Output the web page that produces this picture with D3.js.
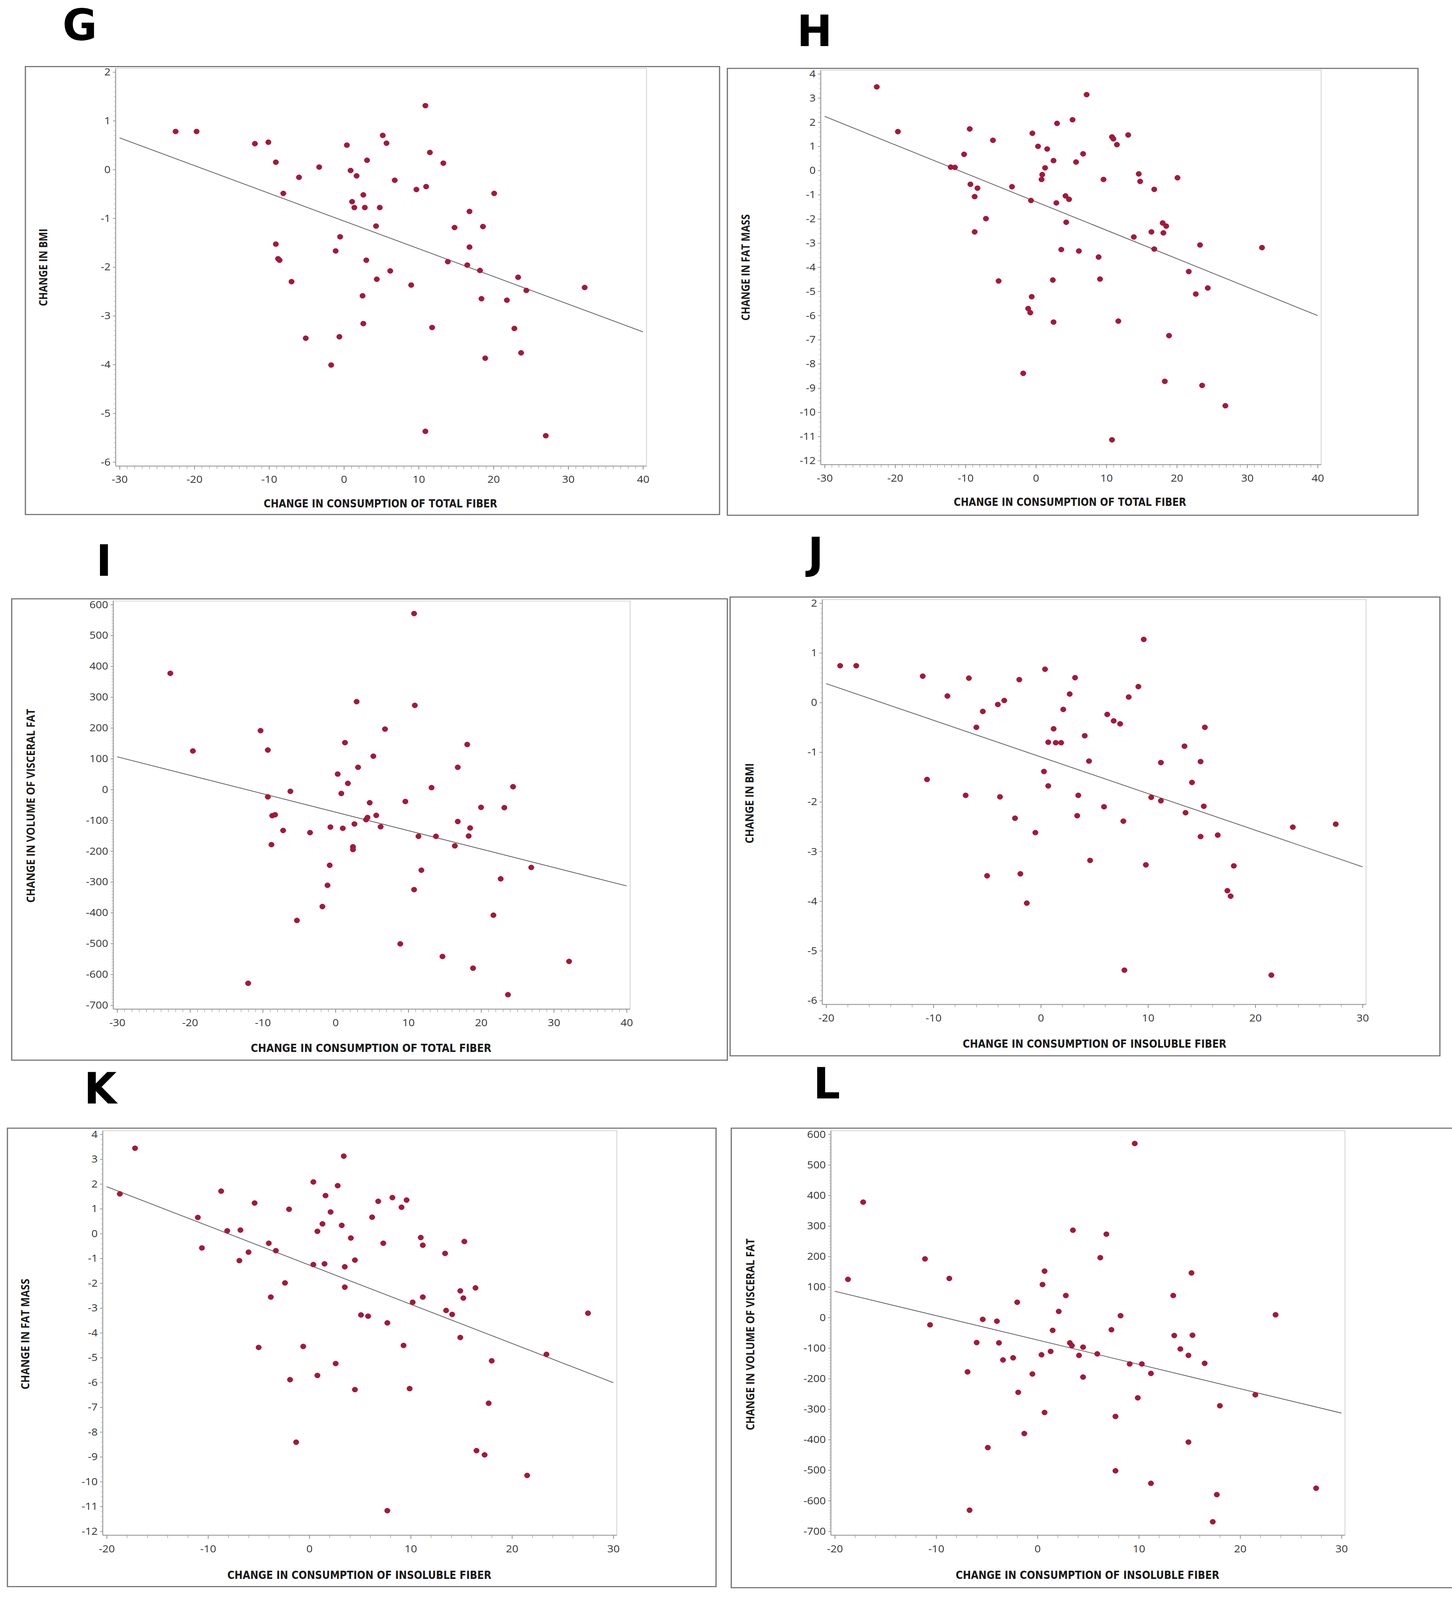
<!DOCTYPE html>
<html>
<head>
<meta charset="utf-8">
<script src="https://cdn.jsdelivr.net/npm/d3@7"></script>
<style>
  html, body { margin: 0; padding: 0; background: #fff; width: 100%; height: 100%; overflow: hidden; }
  svg { display: block; width: 100vw; height: 100vh; }
</style>
</head>
<body>
<script>
// page size (drawing units)
const W = 3717
const H = 4422

// axis ticks
const totalFiberTicks = [-30, -20, -10, 0, 10, 20, 30, 40]
const insolubleTicks = [-20, -10, 0, 10, 20, 30]
const bmiTicks = [-6, -5, -4, -3, -2, -1, 0, 1, 2]
const fatMassTicks = [-12, -11, -10, -9, -8, -7, -6, -5, -4, -3, -2, -1, 0, 1, 2, 3, 4]
const visceralTicks = [-700, -600, -500, -400, -300, -200, -100, 0, 100, 200, 300, 400, 500, 600]

// panel letters and titles
const letters = ['G', 'H', 'I', 'J', 'K', 'L']
const xTitles = [
	'CHANGE IN CONSUMPTION OF TOTAL FIBER',
	'CHANGE IN CONSUMPTION OF TOTAL FIBER',
	'CHANGE IN CONSUMPTION OF TOTAL FIBER',
	'CHANGE IN CONSUMPTION OF INSOLUBLE FIBER',
	'CHANGE IN CONSUMPTION OF INSOLUBLE FIBER',
	'CHANGE IN CONSUMPTION OF INSOLUBLE FIBER'
]
const yTitles = [
	'CHANGE IN BMI',
	'CHANGE IN FAT MASS',
	'CHANGE IN VOLUME OF VISCERAL FAT',
	'CHANGE IN BMI',
	'CHANGE IN FAT MASS',
	'CHANGE IN VOLUME OF VISCERAL FAT'
]

// points: [change in fiber, change in outcome]
const gPoints = [[-22.5,0.78],[-19.7,0.78],[-11.9,0.53],[-10.1,0.56],[-9.1,0.15],[-8.1,-0.49],[-9.1,-1.53],[-8.6,-1.86],[-8.8,-1.83],[-7.0,-2.30],[-6.0,-0.16],[-5.1,-3.46],[-3.3,0.05],[-1.7,-4.01],[-1.1,-1.67],[-0.6,-3.43],[-0.5,-1.38],[0.4,0.50],[0.9,-0.02],[1.1,-0.66],[1.4,-0.78],[1.7,-0.13],[2.5,-2.59],[2.6,-0.52],[2.6,-3.16],[2.8,-0.78],[3.0,-1.86],[3.1,0.19],[4.3,-1.16],[4.4,-2.25],[4.8,-0.78],[5.2,0.70],[5.7,0.54],[6.2,-2.08],[6.8,-0.22],[9.0,-2.37],[9.7,-0.41],[10.9,1.31],[10.9,-5.37],[11.0,-0.35],[11.5,0.35],[11.8,-3.24],[13.3,0.13],[13.9,-1.89],[14.8,-1.19],[16.5,-1.96],[16.8,-0.86],[16.8,-1.59],[18.2,-2.07],[18.4,-2.65],[18.6,-1.17],[18.9,-3.87],[20.1,-0.49],[21.8,-2.68],[22.8,-3.26],[23.3,-2.21],[23.7,-3.76],[24.4,-2.48],[27.0,-5.46],[32.2,-2.42]]

const hPoints = [[-22.6,3.46],[-19.6,1.61],[-12.1,0.14],[-11.5,0.13],[-10.2,0.67],[-9.4,1.72],[-9.3,-0.57],[-8.7,-1.08],[-8.7,-2.54],[-8.3,-0.73],[-7.1,-1.99],[-6.1,1.25],[-5.3,-4.57],[-3.4,-0.67],[-1.8,-8.39],[-1.1,-5.71],[-0.8,-5.88],[-0.7,-1.24],[-0.6,-5.22],[-0.5,1.54],[0.3,1.00],[0.8,-0.37],[0.9,-0.17],[1.3,0.11],[1.6,0.89],[2.4,-4.53],[2.5,0.41],[2.5,-6.27],[2.9,-1.34],[3.0,1.95],[3.6,-3.27],[4.2,-1.05],[4.3,-2.14],[4.7,-1.19],[5.2,2.10],[5.7,0.35],[6.1,-3.33],[6.7,0.69],[7.2,3.14],[8.9,-3.58],[9.1,-4.49],[9.6,-0.37],[10.8,1.39],[10.8,-11.14],[11.0,1.31],[11.5,1.07],[11.7,-6.23],[13.1,1.47],[13.9,-2.75],[14.6,-0.14],[14.8,-0.45],[16.4,-2.54],[16.8,-0.78],[16.8,-3.25],[18.0,-2.17],[18.1,-2.58],[18.3,-8.72],[18.5,-2.30],[18.9,-6.83],[20.1,-0.30],[21.7,-4.18],[22.7,-5.11],[23.3,-3.08],[23.6,-8.89],[24.4,-4.86],[26.9,-9.73],[32.1,-3.19]]

const iPoints = [[-22.7,377],[-19.6,125],[-12.0,-629],[-10.3,191],[-9.3,128],[-9.3,-24],[-8.8,-179],[-8.7,-85],[-8.3,-82],[-7.2,-133],[-6.2,-6],[-5.3,-425],[-3.5,-140],[-1.8,-380],[-1.1,-311],[-0.8,-246],[-0.7,-122],[0.3,50],[0.8,-13],[1.0,-126],[1.3,152],[1.7,20],[2.4,-186],[2.4,-195],[2.6,-112],[2.9,285],[3.1,72],[4.2,-98],[4.4,-91],[4.7,-43],[5.2,108],[5.6,-84],[6.2,-121],[6.8,196],[8.9,-501],[9.6,-39],[10.8,571],[10.9,273],[10.8,-325],[11.4,-152],[11.8,-262],[13.2,6],[13.8,-152],[14.7,-542],[16.4,-183],[16.8,72],[16.8,-104],[18.1,146],[18.3,-151],[18.5,-125],[18.9,-580],[20.0,-58],[21.7,-408],[22.7,-290],[23.2,-59],[23.7,-666],[24.4,9],[26.9,-253],[32.1,-558]]

const jPoints = [[-18.7,0.74],[-17.2,0.74],[-11.0,0.53],[-10.6,-1.55],[-8.7,0.13],[-7.0,-1.87],[-6.7,0.49],[-6.0,-0.50],[-5.4,-0.18],[-5.0,-3.49],[-4.0,-0.04],[-3.8,-1.90],[-3.4,0.04],[-2.4,-2.33],[-2.0,0.46],[-1.9,-3.45],[-1.3,-4.04],[-0.5,-2.62],[0.3,-1.39],[0.4,0.67],[0.7,-1.68],[0.7,-0.80],[1.2,-0.53],[1.4,-0.81],[1.9,-0.81],[2.1,-0.14],[2.7,0.17],[3.2,0.50],[3.4,-2.28],[3.5,-1.87],[4.1,-0.67],[4.5,-1.18],[4.6,-3.18],[5.9,-2.10],[6.2,-0.24],[6.8,-0.37],[7.4,-0.43],[7.7,-2.39],[7.8,-5.39],[8.2,0.11],[9.1,0.32],[9.6,1.27],[9.8,-3.27],[10.3,-1.91],[11.2,-1.98],[11.2,-1.21],[13.4,-0.88],[13.5,-2.22],[14.1,-1.61],[14.9,-1.19],[14.9,-2.70],[15.2,-2.09],[15.3,-0.50],[16.5,-2.67],[17.4,-3.79],[17.7,-3.90],[18.0,-3.29],[21.5,-5.49],[23.5,-2.51],[27.5,-2.45]]

const kPoints = [[-18.7,1.60],[-17.2,3.44],[-11.0,0.65],[-10.6,-0.58],[-8.7,1.71],[-8.1,0.11],[-6.9,-1.09],[-6.8,0.14],[-6.0,-0.75],[-5.4,1.23],[-5.0,-4.59],[-4.0,-0.39],[-3.8,-2.56],[-3.3,-0.69],[-2.4,-1.99],[-2.0,0.98],[-1.9,-5.89],[-1.3,-8.41],[-0.6,-4.55],[0.4,-1.25],[0.4,2.08],[0.8,-5.72],[0.8,0.09],[1.3,0.39],[1.5,-1.22],[1.6,1.53],[2.1,0.87],[2.6,-5.24],[2.8,1.93],[3.2,0.33],[3.4,3.12],[3.5,-1.34],[3.5,-2.16],[4.1,-0.18],[4.5,-1.07],[4.5,-6.29],[5.1,-3.28],[5.8,-3.33],[6.2,0.66],[6.8,1.30],[7.3,-0.39],[7.7,-3.60],[7.7,-11.17],[8.2,1.45],[9.1,1.06],[9.3,-4.51],[9.6,1.35],[9.9,-6.25],[10.2,-2.77],[11.0,-0.16],[11.2,-2.56],[11.2,-0.47],[13.4,-0.80],[13.5,-3.10],[14.1,-3.26],[14.9,-2.31],[14.9,-4.19],[15.2,-2.60],[15.3,-0.32],[16.4,-2.19],[16.5,-8.75],[17.3,-8.92],[17.7,-6.84],[18.0,-5.13],[21.5,-9.75],[23.4,-4.87],[27.5,-3.21]]

const lPoints = [[-18.7,125],[-17.2,378],[-11.1,192],[-10.6,-24],[-8.7,128],[-6.9,-178],[-6.7,-631],[-6.0,-82],[-5.4,-6],[-4.9,-426],[-4.0,-12],[-3.8,-83],[-3.4,-139],[-2.4,-132],[-2.0,50],[-1.9,-245],[-1.3,-380],[-0.5,-185],[0.4,-122],[0.5,108],[0.7,152],[0.7,-311],[1.3,-111],[1.5,-42],[2.1,20],[2.8,72],[3.2,-83],[3.4,-92],[3.5,286],[4.1,-124],[4.5,-97],[4.5,-195],[5.9,-119],[6.2,196],[6.8,273],[7.3,-40],[7.7,-502],[7.7,-324],[8.2,6],[9.1,-152],[9.6,570],[9.9,-263],[10.3,-152],[11.2,-183],[11.2,-543],[13.4,72],[13.5,-59],[14.1,-103],[14.9,-124],[14.9,-408],[15.2,146],[15.3,-58],[16.5,-150],[17.3,-669],[17.7,-580],[18.0,-289],[21.5,-253],[23.5,9],[27.5,-559]]

// fitted lines: [x, y] at both ends
const gFit = [[-30, 0.65], [40, -3.33]]
const hFit = [[-30, 2.24], [40, -6.00]]
const iFit = [[-30, 106], [40, -313]]
const jFit = [[-20, 0.38], [30, -3.31]]
const kFit = [[-20, 1.89], [30, -6.01]]
const lFit = [[-20, 86], [30, -313]]

const DOT = '#a8173a'

// panel placement on the page (pixels)
const panels = [
	{ pts: gPoints, fit: gFit, xt: totalFiberTicks, yt: bmiTicks, xMinor: 1, yMinor: 0.1,
		frame: [65, 184, 1842, 1422], xr: [306, 1646], yr: [199, 1277], letter: [160, 110],
		xTitle: [974, 1402, 598], yTitle: [111, 739, 214] },
	{ pts: hPoints, fit: hFit, xt: totalFiberTicks, yt: fatMassTicks, xMinor: 1, yMinor: 0.2,
		frame: [1862, 189, 3630, 1424], xr: [2111, 3373], yr: [204, 1273], letter: [2040, 127],
		xTitle: [2739, 1398, 595], yTitle: [1909, 739, 294] },
	{ pts: iPoints, fit: iFit, xt: totalFiberTicks, yt: visceralTicks, xMinor: 1, yMinor: 10,
		frame: [30, 1655, 1862, 2930], xr: [300, 1604], yr: [1671, 2778], letter: [246, 1591],
		xTitle: [950, 2907, 616], yTitle: [79, 2227, 536] },
	{ pts: jPoints, fit: jFit, xt: insolubleTicks, yt: bmiTicks, xMinor: 2, yMinor: 0.1,
		frame: [1869, 1650, 3686, 2918], xr: [2115, 3488], yr: [1667, 2765], letter: [2068, 1571],
		xTitle: [2802, 2896, 675], yTitle: [1919, 2220, 222] },
	{ pts: kPoints, fit: kFit, xt: insolubleTicks, yt: fatMassTicks, xMinor: 2, yMinor: 0.2,
		frame: [19, 3118, 1833, 4385], xr: [273, 1570], yr: [3135, 4232], letter: [215, 3050],
		xTitle: [920, 4364, 676], yTitle: [65, 3687, 306] },
	{ pts: lPoints, fit: lFit, xt: insolubleTicks, yt: visceralTicks, xMinor: 2, yMinor: 10,
		frame: [1872, 3118, 3760, 4388], xr: [2137, 3434], yr: [3135, 4232], letter: [2082, 3036],
		xTitle: [2784, 4364, 675], yTitle: [1921, 3688, 530] }
]

// fill the whole window, whatever its real height is
const svg = d3.select('body')
	.append('svg')
	.attr('viewBox', `0 0 ${W} ${H}`)
	.attr('preserveAspectRatio', 'none')

svg.append('rect').attr('width', W).attr('height', H).attr('fill', '#fff')

const tickFont = '"Open Sans", "Liberation Sans", sans-serif'
const titleFont = '"Liberation Sans Narrow", "DejaVu Sans Condensed", "Liberation Sans", sans-serif'

panels.forEach((p, idx) => {
	const g = svg.append('g')

	const xs = d3.scaleLinear()
		.domain([p.xt[0], p.xt[p.xt.length - 1]])
		.range(p.xr)
	const ys = d3.scaleLinear()
		.domain([p.yt[0], p.yt[p.yt.length - 1]])
		.range([p.yr[1], p.yr[0]])

	const left = p.xr[0] - 10, right = p.xr[1] + 9
	const top = p.yr[0] - 10, bottom = p.yr[1] + 11

	// outer frame around the panel
	g.append('rect')
		.attr('x', p.frame[0]).attr('y', p.frame[1])
		.attr('width', p.frame[2] - p.frame[0])
		.attr('height', p.frame[3] - p.frame[1])
		.attr('fill', 'none')
		.attr('stroke', '#707070')
		.attr('stroke-width', 3)

	// plot box
	g.append('rect')
		.attr('x', left).attr('y', top)
		.attr('width', right - left).attr('height', bottom - top)
		.attr('fill', 'none')
		.attr('stroke', '#d2d2d2')
		.attr('stroke-width', 2)

	// minor ticks
	const xMinorVals = d3.range(p.xt[0], p.xt[p.xt.length - 1] + 1e-6, p.xMinor)
	const yMinorVals = d3.range(p.yt[0], p.yt[p.yt.length - 1] + 1e-6, p.yMinor)

	g.append('g')
		.attr('transform', `translate(0,${bottom})`)
		.call(d3.axisBottom(xs).tickValues(xMinorVals).tickSize(8).tickFormat(''))
		.call(a => a.select('.domain').remove())
		.selectAll('line').attr('stroke', '#a8a8a8').attr('stroke-width', 1.6)

	g.append('g')
		.attr('transform', `translate(${left},0)`)
		.call(d3.axisLeft(ys).tickValues(yMinorVals).tickSize(5).tickFormat(''))
		.call(a => a.select('.domain').remove())
		.selectAll('line').attr('stroke', '#b8b8b8').attr('stroke-width', 1.2)

	// major ticks and labels
	const xAxis = g.append('g')
		.attr('transform', `translate(0,${bottom})`)
		.call(d3.axisBottom(xs).tickValues(p.xt).tickSize(10).tickPadding(17).tickFormat(d => String(d)))
	xAxis.select('.domain').remove()
	xAxis.selectAll('line').attr('stroke', '#8a8a8a').attr('stroke-width', 1.8)
	xAxis.selectAll('text')
		.attr('fill', '#333')
		.attr('font-family', tickFont)
		.attr('font-size', 28)

	const yAxis = g.append('g')
		.attr('transform', `translate(${left},0)`)
		.call(d3.axisLeft(ys).tickValues(p.yt).tickSize(7).tickPadding(6).tickFormat(d => String(d)))
	yAxis.select('.domain').remove()
	yAxis.selectAll('line').attr('stroke', '#8a8a8a').attr('stroke-width', 1.8)
	yAxis.selectAll('text')
		.attr('fill', '#333')
		.attr('font-family', tickFont)
		.attr('font-size', 28)

	// axis lines (left and bottom darker than the box)
	g.append('line')
		.attr('x1', left).attr('x2', right).attr('y1', bottom).attr('y2', bottom)
		.attr('stroke', '#9a9a9a').attr('stroke-width', 2.5)
	g.append('line')
		.attr('x1', left).attr('x2', left).attr('y1', top).attr('y2', bottom)
		.attr('stroke', '#9a9a9a').attr('stroke-width', 2.5)

	// fitted line
	g.append('path')
		.datum(p.fit)
		.attr('d', d3.line().x(d => xs(d[0])).y(d => ys(d[1])))
		.attr('fill', 'none')
		.attr('stroke', '#5a5a5a')
		.attr('stroke-width', 2)

	// points
	g.selectAll('circle')
		.data(p.pts)
		.enter()
		.append('circle')
		.attr('cx', d => xs(d[0]))
		.attr('cy', d => ys(d[1]))
		.attr('r', 7)
		.attr('fill', DOT)
		.attr('stroke', '#8e1230')
		.attr('stroke-width', 1)

	// axis titles
	g.append('text')
		.attr('x', p.xTitle[0]).attr('y', p.xTitle[1])
		.attr('text-anchor', 'middle')
		.attr('font-family', titleFont)
		.attr('font-weight', 'bold')
		.attr('font-size', 30)
		.attr('fill', '#1a1a1a')
		.attr('textLength', p.xTitle[2])
		.attr('lengthAdjust', 'spacingAndGlyphs')
		.text(xTitles[idx])

	g.append('text')
		.attr('transform', `translate(${p.yTitle[0] + 10},${p.yTitle[1]}) rotate(-90)`)
		.attr('text-anchor', 'middle')
		.attr('font-family', '"Open Sans", "DejaVu Sans", sans-serif')
		.attr('font-weight', 'bold')
		.attr('font-size', 28)
		.attr('fill', '#1a1a1a')
		.attr('textLength', p.yTitle[2])
		.attr('lengthAdjust', 'spacingAndGlyphs')
		.text(yTitles[idx])

	// panel letter
	svg.append('text')
		.attr('x', p.letter[0]).attr('y', p.letter[1])
		.attr('font-family', titleFont)
		.attr('font-weight', 'bold')
		.attr('font-size', 120)
		.attr('fill', '#000')
		.text(letters[idx])
})
</script>
</body>
</html>
